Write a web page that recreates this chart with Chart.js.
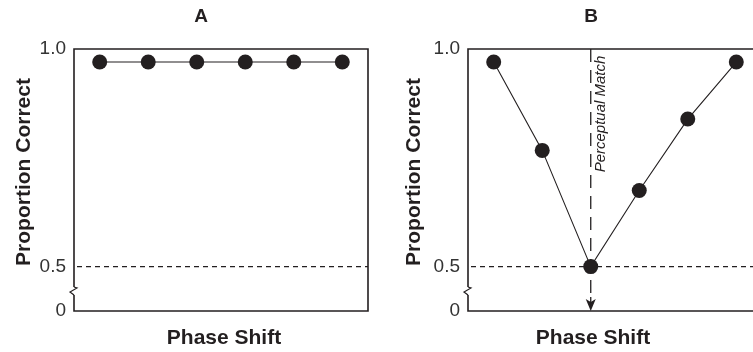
<!DOCTYPE html>
<html>
<head>
<meta charset="utf-8">
<script src="https://cdn.jsdelivr.net/npm/chart.js@4.4.1/dist/chart.umd.min.js"></script>
<style>
  html, body { margin: 0; padding: 0; background: #fff; overflow: hidden; }
  #wrap { position: relative; width: 753px; height: 352px; overflow: hidden; }
  .panel { position: absolute; top: 0; height: 352px; }
  #panelA { left: 0; width: 376px; }
  #panelB { left: 376px; width: 400px; }
</style>
</head>
<body>
<div id="wrap">
  <div class="panel" id="panelA"><canvas id="chartA"></canvas></div>
  <div class="panel" id="panelB"><canvas id="chartB"></canvas></div>
</div>
<script>
// Phase shift steps along the x axis (unlabelled positions)
const phaseSteps = [0, 1, 2, 3, 4, 5];
// Proportion correct per phase step
const accuracyA = [0.97, 0.97, 0.97, 0.97, 0.97, 0.97];
const accuracyB = [0.97, 0.767, 0.5, 0.675, 0.839, 0.97];
// Y axis ticks; the axis is broken between 0 and 0.5
const yTickValues = [0, 0.5, 1.0];
const yTickLabels = ['0', '0.5', '1.0'];
const chanceLevel = 0.5;
const panelTitles = ['A', 'B'];
const xAxisTitle = 'Phase Shift';
const yAxisTitle = 'Proportion Correct';
const matchLabel = 'Perceptual Match';

// The "0" tick sits just below the break, a short way under 0.5
const axisFloor = 0.398;
const INK = '#231f20';
const FONT = '"Liberation Sans", Arial, Helvetica, sans-serif';

function tickPosition(v) { return v === 0 ? axisFloor : v; }

const decorPlugin = {
  id: 'panelDecor',
  beforeDatasetsDraw(chart, args, opts) {
    const ctx = chart.ctx;
    const a = chart.chartArea;
    const ys = chart.scales.y, xs = chart.scales.x;
    ctx.save();
    ctx.strokeStyle = INK;
    ctx.lineWidth = 1.6;
    // frame with a break mark on the left axis
    const brk = a.bottom - 22;
    ctx.beginPath();
    ctx.moveTo(a.left, brk + 6);
    ctx.lineTo(a.left, a.bottom);
    ctx.lineTo(a.right, a.bottom);
    ctx.lineTo(a.right, a.top);
    ctx.lineTo(a.left, a.top);
    ctx.lineTo(a.left, brk - 2);
    ctx.stroke();
    ctx.lineWidth = 1.2;
    ctx.beginPath();
    ctx.moveTo(a.left, brk - 2);
    ctx.lineTo(a.left + 3, brk - 1);
    ctx.lineTo(a.left - 4, brk + 3);
    ctx.lineTo(a.left, brk + 6);
    ctx.stroke();

    // chance level
    const yc = ys.getPixelForValue(chanceLevel);
    ctx.lineWidth = 1.3;
    ctx.setLineDash([5, 4]);
    ctx.beginPath();
    ctx.moveTo(a.left + 3, yc);
    ctx.lineTo(a.right, yc);
    ctx.stroke();

    // perceptual match marker at the lowest point
    if (opts.matchData) {
      const d = opts.matchData;
      const idx = d.indexOf(Math.min(...d));
      const xm = xs.getPixelForValue(phaseSteps[idx]);
      const tip = a.bottom;
      ctx.setLineDash([13, 8]);
      ctx.lineWidth = 1.3;
      ctx.beginPath();
      ctx.moveTo(xm, a.top);
      ctx.lineTo(xm, tip - 12);
      ctx.stroke();
      ctx.setLineDash([]);
      ctx.fillStyle = INK;
      ctx.beginPath();
      ctx.moveTo(xm, tip);
      ctx.lineTo(xm - 5, tip - 12);
      ctx.lineTo(xm, tip - 9);
      ctx.lineTo(xm + 5, tip - 12);
      ctx.closePath();
      ctx.fill();
      ctx.beginPath();
      ctx.lineWidth = 1.3;
      ctx.moveTo(xm, tip - 14);
      ctx.lineTo(xm, tip - 9);
      ctx.stroke();

      ctx.save();
      ctx.translate(xm + 14, a.top + 65);
      ctx.rotate(-Math.PI / 2);
      ctx.font = 'italic 15px ' + FONT;
      ctx.fillStyle = INK;
      ctx.textAlign = 'center';
      ctx.textBaseline = 'alphabetic';
      ctx.fillText(matchLabel, 0, 0);
      ctx.restore();
    }
    ctx.restore();
  },
  afterDraw(chart, args, opts) {
    const ctx = chart.ctx;
    const a = chart.chartArea;
    ctx.save();
    ctx.fillStyle = INK;
    ctx.textAlign = 'center';
    ctx.textBaseline = 'alphabetic';
    ctx.font = 'bold 19px ' + FONT;
    ctx.fillText(opts.title, opts.titleX, 22);
    ctx.font = 'bold 21px ' + FONT;
    ctx.fillText(xAxisTitle, opts.xLabelX, 344);
    ctx.save();
    ctx.translate(opts.yLabelX, (a.top + a.bottom) / 2 - 8);
    ctx.rotate(-Math.PI / 2);
    ctx.fillText(yAxisTitle, 0, 0);
    ctx.restore();
    ctx.restore();
  }
};

function makeChart(id, values, yAxisWidth, rightPad, decor) {
  return new Chart(document.getElementById(id), {
    type: 'line',
    data: {
      datasets: [{
        data: phaseSteps.map((x, i) => ({ x: x, y: values[i] })),
        borderColor: INK,
        borderWidth: 1.1,
        pointRadius: 7.5,
        pointBackgroundColor: INK,
        pointBorderColor: INK,
        pointBorderWidth: 0,
        tension: 0
      }]
    },
    options: {
      responsive: true,
      maintainAspectRatio: false,
      animation: false,
      events: [],
      layout: { padding: { top: 49, right: rightPad, bottom: 41, left: 0 } },
      plugins: { legend: { display: false }, tooltip: { enabled: false }, panelDecor: decor },
      scales: {
        x: {
          type: 'linear',
          min: -0.53,
          max: 5.53,
          grid: { display: false, drawTicks: false },
          border: { display: false },
          ticks: { display: false },
          afterFit(s) { s.height = 0; }
        },
        y: {
          type: 'linear',
          min: axisFloor,
          max: 1.0,
          grid: { display: false, drawTicks: false },
          border: { display: false },
          afterBuildTicks(s) { s.ticks = yTickValues.map(v => ({ value: tickPosition(v) })); },
          afterFit(s) { s.width = yAxisWidth; },
          ticks: {
            padding: 8,
            color: '#333',
            font: { family: FONT, size: 19 },
            callback(value) {
              const i = yTickValues.findIndex(v => Math.abs(tickPosition(v) - value) < 1e-6);
              return i >= 0 ? yTickLabels[i] : '';
            }
          }
        }
      }
    },
    plugins: [decorPlugin]
  });
}

makeChart('chartA', accuracyA, 74, 8, {
  title: panelTitles[0], titleX: 201, xLabelX: 224, yLabelX: 30
});
makeChart('chartB', accuracyB, 92, 14, {
  title: panelTitles[1], titleX: 215, xLabelX: 217, yLabelX: 44,
  matchData: accuracyB
});
</script>
</body>
</html>
